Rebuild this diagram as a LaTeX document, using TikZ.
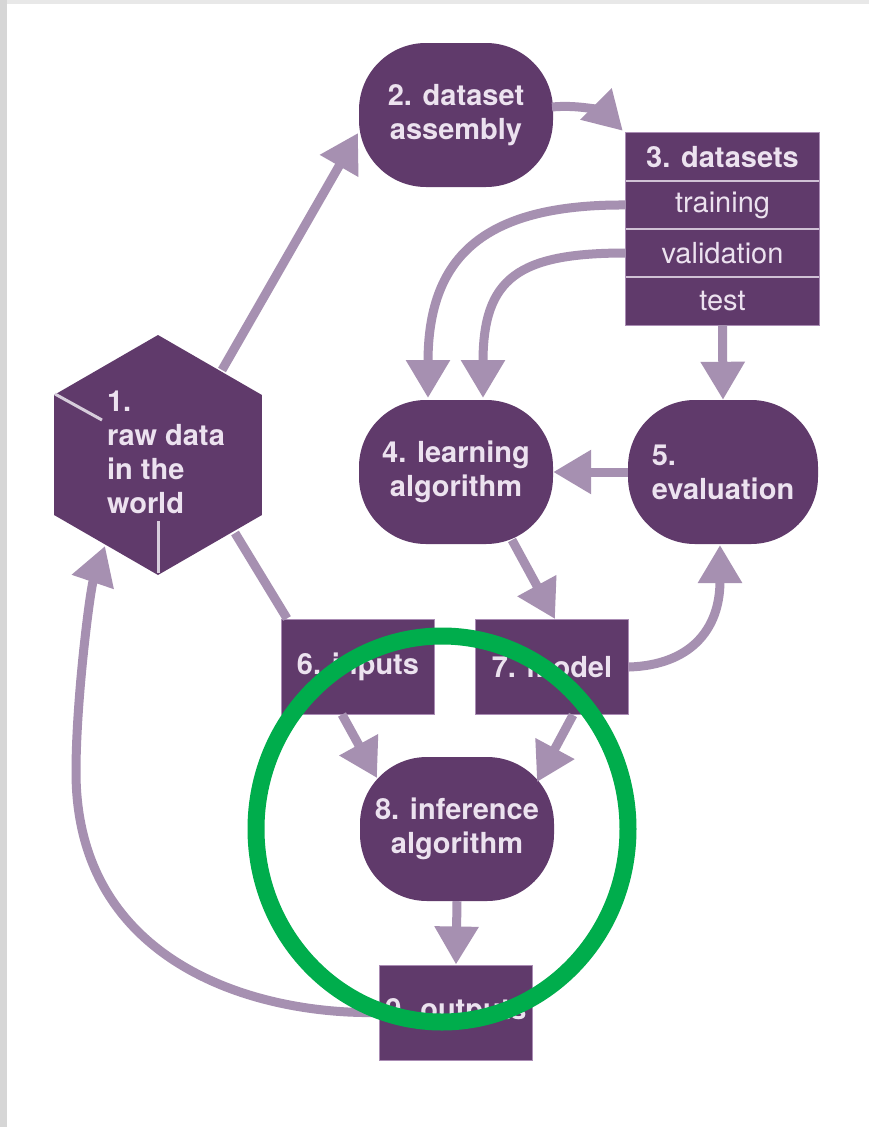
\documentclass[tikz,border=0pt]{standalone}
\usepackage{fontspec}
\setmainfont{TeX Gyre Heros}
\usetikzlibrary{arrows.meta,shapes.geometric,calc}

\definecolor{plum}{RGB}{96,58,107}
\definecolor{lilac}{RGB}{166,144,177}
\definecolor{ink}{RGB}{236,226,239}
\definecolor{edge}{RGB}{170,140,180}
\definecolor{ring}{RGB}{0,173,76}

\newcommand\boldlab{\bfseries\fontsize{29}{34}\selectfont}
\newcommand\reglab{\fontsize{29}{34}\selectfont}

\begin{document}
\begin{tikzpicture}[x=1pt,y=-1pt,
  blob/.style={fill=plum, rounded corners=67pt, minimum width=194pt,
    minimum height=144pt, inner sep=0pt, text=ink, align=center, font=\boldlab},
  tile/.style={fill=plum, draw=edge, line width=1pt, minimum width=153pt,
    minimum height=95pt, inner sep=0pt, text=ink, font=\boldlab},
  row/.style={fill=plum, minimum width=193pt, minimum height=48pt,
    inner sep=0pt, text=ink, font=\reglab},
  flow/.style={draw=lilac, line width=9pt, -{Triangle[width=42pt,length=38pt]}},
  plainlink/.style={draw=lilac, line width=9pt},
  facet/.style={draw=lilac!45!white, line width=3pt}]

% page and frame strips
\useasboundingbox (0,0) rectangle (869,1127);
\fill[white] (0,0) rectangle (869,1127);
\fill[black!16] (0,0) rectangle (7,1127);
\fill[black!9] (7,0) rectangle (869,4);

% raw data hexagon
\node[regular polygon, regular polygon sides=6, shape border rotate=30,
  minimum size=240pt, inner sep=0pt, fill=plum] (hex) at (158,455) {};
\draw[facet] ($(hex)+(-103,-61)$) -- ($(hex)+(-56,-35)$);
\draw[facet] ($(hex)+(0,118)$) -- ($(hex)+(0,66)$);
\node[text=ink, font=\boldlab, align=left, inner sep=0pt] (hextext) at (166,452)
  {1.\\raw data\\in the\\world};

% rounded process nodes
\node[blob] (n2) at (456,115) {2. dataset\\assembly};
\node[blob] (n4) at (456,472) {4. learning\\algorithm};
\node[blob, align=left, minimum width=190pt] (n5) at (723,472) {5.\\evaluation};
\node[blob] (n8) at (457,829) {8. inference\\algorithm};

% dataset table
\node[row, font=\boldlab] (ds) at (722.5,157) {3. datasets};
\node[row] (dtrain) at (722.5,205) {training};
\node[row] (dval) at (722.5,253) {validation};
\node[row] (dtest) at (722.5,301) {test};
\draw[edge, line width=1pt] (ds.north west) rectangle (dtest.south east);
\foreach \a/\b in {ds/dtrain, dtrain/dval, dval/dtest}
  \draw[ink!80!plum, line width=2.2pt] (\a.south west) -- (\a.south east);

% boxes
\node[tile] (inp) at (358,666.5) {6. inputs};
\node[tile] (mod) at (552,667) {7. model};
\node[tile] (outp) at (456,1012.5) {9. outputs};

% connectors
\draw[flow] ($(hex)+(64,-85)$) -- ($(n2)+(-98,18)$);
\draw[flow] ($(n2)+(96,-8)$) .. controls (585,104) and (606,114) .. ($(ds.north west)+(-3,-2)$);
\draw[flow] (dtrain.west) .. controls (480,204) and (428,260) .. ($(n4)+(-28,-74)$);
\draw[flow] (dval.west) .. controls (518,253) and (483,278) .. ($(n4)+(27,-74)$);
\draw[flow] (dtest.south) -- (n5.north);
\draw[flow] (n5.west) -- (n4.east);
\draw[flow] ($(n4)+(56,68)$) -- ($(mod.north)+(3,0)$);
\draw[flow] (mod.east) .. controls (690,665) and (720,630) .. ($(n5)+(-3,73)$);
\draw[plainlink] ($(hex)+(77,78)$) -- ($(inp.north west)+(6,0)$);
\draw[flow] ($(inp.south)+(-16,0)$) -- ($(n8)+(-80,-51)$);
\draw[flow] ($(mod.south)+(21,0)$) -- ($(n8)+(80,-47)$);
\draw[flow] (n8.south) -- (outp.north);
\draw[flow] (outp.west) .. controls (250,1015) and (76,960) .. (76,772)
  .. controls (76,700) and (90,590) .. ($(hex)+(-53,91)$);

% highlight ring
\draw[ring, line width=17pt] (442,829) ellipse [x radius=186, y radius=193];
\end{tikzpicture}
\end{document}
